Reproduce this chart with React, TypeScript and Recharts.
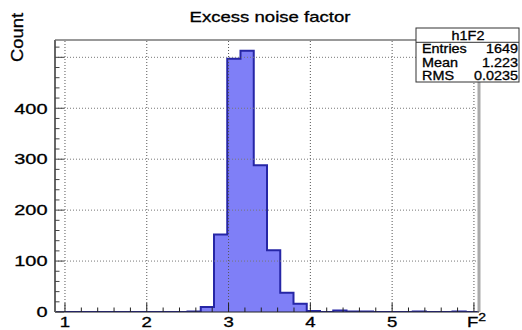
import React from 'react';
import { ComposedChart, Area, XAxis, YAxis, ReferenceLine } from 'recharts';

// Histogram binning (x in F^2)
const X_MIN = 0.878;
const BIN_WIDTH = 0.162;
const counts = [
  0, 0, 0, 0, 0, 0, 0, 0, 0, 0,
  1, 10, 152, 497, 513, 288, 121, 38, 16, 2,
  0, 3, 1, 1, 0, 0, 0, 1, 0, 0,
  1, 0,
];
const X_MAX = X_MIN + counts.length * BIN_WIDTH;
const Y_MAX = 534;

const xMajorTicks = [1, 2, 3, 4, 5, 6];
const xTickLabels = ['1', '2', '3', '4', '5', ''];
const yMajorTicks = [0, 100, 200, 300, 400, 500];
const yTickLabels = ['0', '100', '200', '300', '400', ''];

const titleText = 'Excess noise factor';
const yTitle = 'Count';
const xTitleBase = 'F';
const xTitleSup = '2';
const statsName = 'h1F2';
const statsLabels = ['Entries', 'Mean', 'RMS'];
const statsValues = ['1649', '1.223', '0.0235'];

const data = counts.map((c, i) => ({ x: X_MIN + i * BIN_WIDTH, count: c }));
data.push({ x: X_MAX, count: counts[counts.length - 1] });

const xTicks: number[] = [];
for (let i = 10; i <= 60; i += 2) xTicks.push(i / 10);
const yTicks: number[] = [];
for (let v = 0; v <= 520; v += 20) yTicks.push(v);

const FONT = '"Liberation Sans", Arial, Helvetica, sans-serif';
const SX = 1.33;
const TXT = '#000';
const HEAVY = { stroke: '#000', strokeWidth: 0.3 };

const XTick = (props: any) => {
  const { x, y, payload } = props;
  const v = payload.value;
  const idx = xMajorTicks.findIndex((m) => Math.abs(m - v) < 1e-6);
  const major = idx >= 0;
  return (
    <g>
      <line x1={x} x2={x} y1={y} y2={y - (major ? 9 : 4.5)} stroke="#222" strokeWidth={1} />
      {major && xTickLabels[idx] !== '' && (
        <text
          transform={`translate(${x},${y + 15}) scale(${SX},1)`}
          textAnchor="middle"
          fontFamily={FONT}
          fontSize={14}
          fill={TXT}
          {...HEAVY}
        >
          {xTickLabels[idx]}
        </text>
      )}
    </g>
  );
};

const YTick = (props: any) => {
  const { x, y, payload } = props;
  const v = payload.value;
  const idx = yMajorTicks.indexOf(v);
  const major = idx >= 0;
  return (
    <g>
      <line x1={x} x2={x + (major ? 9 : 4.5)} y1={y} y2={y} stroke="#444" strokeWidth={1} />
      {major && yTickLabels[idx] !== '' && (
        <text
          transform={`translate(${x - 7.5},${y + 5.3}) scale(${SX},1)`}
          textAnchor="end"
          fontFamily={FONT}
          fontSize={15}
          fill={TXT}
          {...HEAVY}
        >
          {yTickLabels[idx]}
        </text>
      )}
    </g>
  );
};

const Overlay = () => (
  <svg
    width={522}
    height={330}
    style={{ position: 'absolute', left: 0, top: 0, pointerEvents: 'none' }}
  >
    <text
      x={270}
      y={22}
      textAnchor="middle"
      fontFamily={FONT}
      fontSize={14.5}
      fill={TXT}
      textLength={161}
      lengthAdjust="spacingAndGlyphs"
      {...HEAVY}
    >
      {titleText}
    </text>
    <text
      transform="translate(23,37.5) rotate(-90)"
      textAnchor="middle"
      fontFamily={FONT}
      fontSize={16}
      fill={TXT}
      textLength={49}
      lengthAdjust="spacingAndGlyphs"
      {...HEAVY}
    >
      {yTitle}
    </text>
    <text
      transform={`translate(467,327) scale(${SX},1)`}
      fontFamily={FONT}
      fontSize={14}
      fill={TXT}
      {...HEAVY}
    >
      {xTitleBase}
      <tspan fontSize={10.5} dy={-6}>{xTitleSup}</tspan>
    </text>
    <rect x={416} y={28} width={103} height={54} fill="#fff" stroke="#333" strokeWidth={1} />
    <line x1={416} x2={519} y1={42.3} y2={42.3} stroke="#333" strokeWidth={1} />
    <text
      transform={`translate(468,39.5) scale(1.2,1)`}
      textAnchor="middle"
      fontFamily={FONT}
      fontSize={12}
      fill={TXT}
      {...HEAVY}
    >
      {statsName}
    </text>
    {statsLabels.map((l, i) => (
      <g key={l}>
        <text
          transform={`translate(422,${53 + i * 13.5}) scale(1.2,1)`}
          fontFamily={FONT}
          fontSize={12}
          fill={TXT}
          {...HEAVY}
        >
          {l}
        </text>
        <text
          transform={`translate(518,${53 + i * 13.5}) scale(1.2,1)`}
          textAnchor="end"
          fontFamily={FONT}
          fontSize={12}
          fill={TXT}
          {...HEAVY}
        >
          {statsValues[i]}
        </text>
      </g>
    ))}
  </svg>
);

export default function App() {
  return (
    <div style={{ position: 'absolute', left: 0, top: 0, width: 522, height: 330, background: '#fff' }}>
      <ComposedChart
        width={522}
        height={330}
        data={data}
        margin={{ top: 40, right: 43, bottom: 0, left: 0 }}
      >
        <XAxis
          type="number"
          dataKey="x"
          domain={[X_MIN, X_MAX]}
          ticks={xTicks}
          interval={0}
          allowDataOverflow
          height={18}
          tickSize={0}
          tickMargin={0}
          tickLine={false}
          tick={<XTick />}
          axisLine={{ stroke: '#222', strokeWidth: 1 }}
        />
        <YAxis
          type="number"
          domain={[0, Y_MAX]}
          ticks={yTicks}
          interval={0}
          allowDataOverflow
          width={55}
          tickSize={0}
          tickMargin={0}
          tickLine={false}
          tick={<YTick />}
          axisLine={{ stroke: '#666', strokeWidth: 2 }}
        />
        <Area
          type="stepAfter"
          dataKey="count"
          baseValue={0}
          fill="#7f7ff7"
          fillOpacity={1}
          stroke="#2626a6"
          strokeWidth={2}
          dot={false}
          activeDot={false}
          isAnimationActive={false}
        />
        {xMajorTicks.map((t) => (
          <ReferenceLine key={'vx' + t} x={t} stroke="#555" strokeDasharray="1 2" strokeWidth={1} />
        ))}
        {yMajorTicks.slice(1).map((t) => (
          <ReferenceLine key={'hy' + t} y={t} stroke="#777" strokeDasharray="1 2" strokeWidth={1} />
        ))}
        <ReferenceLine y={Y_MAX} stroke="#999" strokeWidth={2} />
        <ReferenceLine x={X_MAX} stroke="#aaa" strokeWidth={3} />
      </ComposedChart>
      <Overlay />
    </div>
  );
}
